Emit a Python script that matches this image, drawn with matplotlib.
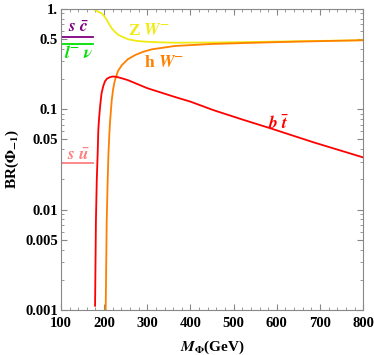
import numpy as np
import matplotlib
matplotlib.use('Agg')
import matplotlib.pyplot as plt
from matplotlib.ticker import FixedLocator, MultipleLocator, LogLocator, NullFormatter

plt.rcParams['font.family'] = ['Liberation Serif', 'DejaVu Serif']
plt.rcParams['font.weight'] = 'bold'
plt.rcParams['mathtext.fontset'] = 'stix'

# b tbar channel
m_bt = [179, 181, 183, 185, 186.5, 188, 190.5, 194, 198, 202, 207, 213.7, 220, 229,
        240, 255, 300, 365, 400, 453, 520, 585, 685, 800]
br_bt = [0.0011, 0.0078, 0.02, 0.036, 0.062, 0.078, 0.105, 0.144, 0.17, 0.19, 0.202, 0.209, 0.212, 0.21,
         0.204, 0.195, 0.162, 0.132, 0.119, 0.098, 0.079, 0.0646, 0.0468, 0.0331]

# h W- channel
m_hw = [203.6, 206, 208, 210, 212, 213.7, 217.6, 221, 225, 232, 241, 255, 272, 290, 310,
        364.5, 450, 550, 650, 800]
br_hw = [0.001, 0.0078, 0.018, 0.036, 0.056, 0.075, 0.123, 0.16, 0.195, 0.24, 0.275, 0.315, 0.347, 0.373, 0.395,
         0.427, 0.447, 0.46, 0.472, 0.487]

# Z W- channel
m_zw = [172, 176, 182, 188, 194, 200, 206, 212, 217.6, 225, 233, 245, 256, 275, 295,
        330, 364.5, 450, 550, 650, 800]
br_zw = [1.02, 0.99, 0.96, 0.93, 0.905, 0.85, 0.776, 0.70, 0.64, 0.59, 0.55, 0.52, 0.497, 0.48, 0.471,
         0.464, 0.46, 0.462, 0.468, 0.476, 0.487]

# light channels below threshold
m_low = [100, 175]
br_sc = [0.53, 0.53]
br_lnu = [0.45, 0.45]
br_su = [0.029, 0.029]

ytick_vals = [0.001, 0.005, 0.01, 0.05, 0.1, 0.5, 1.0]
ytick_labels = ['0.001', '0.005', '0.01', '0.05', '0.1', '0.5', '1.']

c_red = '#ff0000'
c_orange = '#ff8000'
c_yellow = '#f0eb10'
c_purple = '#800080'
c_green = '#00e000'
c_pink = '#ff8080'

fig = plt.figure(figsize=(3.74, 3.55), dpi=100)
ax = fig.add_axes([0.163, 0.127, 0.808, 0.848])

lw = 1.3
ax.plot(m_low, br_sc, color=c_purple, lw=lw)
ax.plot(m_low, br_lnu, color=c_green, lw=lw)
ax.plot(m_low, br_su, color=c_pink, lw=lw)
ax.plot(m_zw, br_zw, color=c_yellow, lw=lw)
ax.plot(m_hw, br_hw, color=c_orange, lw=lw)
ax.plot(m_bt, br_bt, color=c_red, lw=lw)

ax.set_yscale('log')
ax.set_xlim(100, 800)
ax.set_ylim(0.001, 1.0)

ax.xaxis.set_major_locator(MultipleLocator(100))
ax.xaxis.set_minor_locator(MultipleLocator(20))
ax.yaxis.set_major_locator(FixedLocator(ytick_vals))
ax.set_yticklabels(ytick_labels)
ax.yaxis.set_minor_locator(LogLocator(base=10, subs=np.arange(2, 10)))
ax.yaxis.set_minor_formatter(NullFormatter())

ax.tick_params(which='both', direction='in', top=True, right=True,
               color='#888888', labelsize=10.5)
ax.tick_params(axis='y', pad=2)
ax.tick_params(axis='x', pad=5)
ax.tick_params(which='major', length=4)
ax.tick_params(which='minor', length=2)
for lab in ax.get_xticklabels() + ax.get_yticklabels():
    lab.set_fontweight('bold')
for sp in ax.spines.values():
    sp.set_color('#888888')
    sp.set_linewidth(0.8)

ax.set_ylabel(r'BR($\mathbf{\Phi}_{-1}$)', fontsize=11, fontweight='bold', labelpad=3)
ax.set_xlabel(r'$\mathbfit{M}_{\mathbf{\Phi}}$(GeV)', fontsize=11, fontweight='bold', labelpad=6)

fs = 12.5
ax.text(140, 0.645, r'$\mathbfit{s}\ \bar{\mathbfit{c}}$', color=c_purple, fontsize=fs, ha='center', va='center')
ax.text(140, 0.36, r'$\mathbfit{l}^{-}\ \mathbfit{\nu}$', color=c_green, fontsize=fs, ha='center', va='center')
ax.text(140, 0.034, r'$\mathbfit{s}\ \bar{\mathbfit{u}}$', color=c_pink, fontsize=fs, ha='center', va='center')
ax.text(304, 0.60, r'Z $\mathbfit{W}^{-}$', color=c_yellow, fontsize=fs, ha='center', va='center')
ax.text(339, 0.29, r'h $\mathbfit{W}^{-}$', color=c_orange, fontsize=fs, ha='center', va='center')
ax.text(604, 0.071, r'$\mathbfit{b}\ \bar{\mathbfit{t}}$', color=c_red, fontsize=fs, ha='center', va='center')

fig.savefig('out.png', dpi=100)
